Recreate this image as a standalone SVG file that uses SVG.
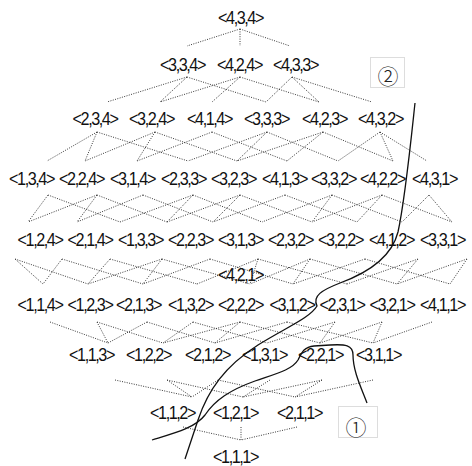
<svg xmlns="http://www.w3.org/2000/svg" width="472" height="466" viewBox="0 0 472 466">
<style>
text.n{font-family:"Liberation Sans",Arial,sans-serif;font-size:18px;fill:#111;text-anchor:middle;letter-spacing:-1.6px}
.e line{stroke:#222;stroke-width:0.9;stroke-dasharray:1 1.4;fill:none}
.c{fill:none;stroke:#111;stroke-width:1.3}
.b{fill:#fff;stroke:#ddd;stroke-width:1}
.m{font-family:"Noto Sans CJK JP","DejaVu Sans",sans-serif;font-size:21px;font-weight:300;fill:#222;text-anchor:middle}
</style>
<rect width="472" height="466" fill="#fff"/>
<g id="connectors" class="e">
<line x1="240" y1="29" x2="187" y2="46"/><line x1="240" y1="29" x2="240" y2="46"/><line x1="240" y1="29" x2="290" y2="46"/>
<line x1="187" y1="77" x2="107" y2="102"/><line x1="187" y1="77" x2="160" y2="102"/><line x1="187" y1="77" x2="266" y2="102"/>
<line x1="240" y1="77" x2="160" y2="102"/><line x1="240" y1="77" x2="212" y2="102"/><line x1="240" y1="77" x2="319" y2="102"/>
<line x1="292" y1="77" x2="266" y2="102"/><line x1="292" y1="77" x2="319" y2="102"/><line x1="292" y1="77" x2="372" y2="102"/>
<line x1="97" y1="132" x2="47" y2="161"/><line x1="97" y1="132" x2="85" y2="161"/><line x1="97" y1="132" x2="188" y2="161"/>
<line x1="155" y1="132" x2="85" y2="161"/><line x1="155" y1="132" x2="137" y2="161"/><line x1="155" y1="132" x2="237" y2="161"/>
<line x1="212" y1="132" x2="137" y2="161"/><line x1="212" y1="132" x2="287" y2="161"/>
<line x1="267" y1="132" x2="188" y2="161"/><line x1="267" y1="132" x2="237" y2="161"/><line x1="267" y1="132" x2="338" y2="161"/>
<line x1="323" y1="132" x2="237" y2="161"/><line x1="323" y1="132" x2="287" y2="161"/><line x1="323" y1="132" x2="393" y2="161"/>
<line x1="380" y1="132" x2="338" y2="161"/><line x1="380" y1="132" x2="393" y2="161"/><line x1="380" y1="132" x2="427" y2="161"/>
<line x1="48" y1="195" x2="28" y2="222"/><line x1="48" y1="195" x2="120" y2="222"/>
<line x1="97" y1="195" x2="28" y2="222"/><line x1="97" y1="195" x2="77" y2="222"/><line x1="97" y1="195" x2="167" y2="222"/>
<line x1="143" y1="195" x2="77" y2="222"/><line x1="143" y1="195" x2="213" y2="222"/>
<line x1="193" y1="195" x2="120" y2="222"/><line x1="193" y1="195" x2="167" y2="222"/><line x1="193" y1="195" x2="262" y2="222"/>
<line x1="240" y1="195" x2="167" y2="222"/><line x1="240" y1="195" x2="213" y2="222"/><line x1="240" y1="195" x2="312" y2="222"/>
<line x1="285" y1="195" x2="213" y2="222"/><line x1="285" y1="195" x2="357" y2="222"/>
<line x1="332" y1="195" x2="262" y2="222"/><line x1="332" y1="195" x2="312" y2="222"/><line x1="332" y1="195" x2="402" y2="222"/>
<line x1="382" y1="195" x2="312" y2="222"/><line x1="382" y1="195" x2="357" y2="222"/><line x1="382" y1="195" x2="452" y2="222"/>
<line x1="429" y1="195" x2="402" y2="222"/><line x1="429" y1="195" x2="452" y2="222"/>
<line x1="15" y1="259" x2="43" y2="284"/><line x1="15" y1="259" x2="88" y2="284"/>
<line x1="62" y1="259" x2="43" y2="284"/><line x1="62" y1="259" x2="143" y2="284"/>
<line x1="110" y1="259" x2="88" y2="284"/><line x1="110" y1="259" x2="197" y2="284"/>
<line x1="162" y1="259" x2="88" y2="284"/><line x1="162" y1="259" x2="143" y2="284"/><line x1="162" y1="259" x2="250" y2="284"/>
<line x1="210" y1="259" x2="143" y2="284"/><line x1="210" y1="259" x2="293" y2="284"/>
<line x1="258" y1="259" x2="197" y2="284"/><line x1="258" y1="259" x2="250" y2="284"/><line x1="258" y1="259" x2="347" y2="284"/>
<line x1="310" y1="259" x2="250" y2="284"/><line x1="310" y1="259" x2="293" y2="284"/><line x1="310" y1="259" x2="397" y2="284"/>
<line x1="365" y1="259" x2="293" y2="284"/><line x1="365" y1="259" x2="450" y2="284"/>
<line x1="418" y1="259" x2="347" y2="284"/><line x1="418" y1="259" x2="397" y2="284"/>
<line x1="467" y1="259" x2="397" y2="284"/><line x1="467" y1="259" x2="450" y2="284"/>
<line x1="50" y1="322" x2="108" y2="343"/>
<line x1="97" y1="322" x2="108" y2="343"/><line x1="97" y1="322" x2="163" y2="343"/>
<line x1="147" y1="322" x2="108" y2="343"/><line x1="147" y1="322" x2="215" y2="343"/>
<line x1="193" y1="322" x2="163" y2="343"/><line x1="193" y1="322" x2="267" y2="343"/>
<line x1="240" y1="322" x2="163" y2="343"/><line x1="240" y1="322" x2="215" y2="343"/><line x1="240" y1="322" x2="320" y2="343"/>
<line x1="287" y1="322" x2="215" y2="343"/><line x1="287" y1="322" x2="373" y2="343"/>
<line x1="335" y1="322" x2="267" y2="343"/><line x1="335" y1="322" x2="320" y2="343"/>
<line x1="382" y1="322" x2="320" y2="343"/><line x1="382" y1="322" x2="373" y2="343"/>
<line x1="432" y1="322" x2="373" y2="343"/>
<line x1="115" y1="380" x2="192" y2="397"/>
<line x1="167" y1="380" x2="192" y2="397"/><line x1="167" y1="380" x2="243" y2="397"/>
<line x1="218" y1="380" x2="192" y2="397"/><line x1="218" y1="380" x2="295" y2="397"/>
<line x1="270" y1="380" x2="243" y2="397"/>
<line x1="322" y1="380" x2="243" y2="397"/><line x1="322" y1="380" x2="295" y2="397"/>
<line x1="373" y1="380" x2="295" y2="397"/>
<line x1="183" y1="427" x2="241" y2="440"/><line x1="241" y1="427" x2="241" y2="440"/><line x1="297" y1="427" x2="241" y2="440"/>
</g>
<g id="r11"><g id="n434"><text class="n" transform="translate(240.5,24) scale(0.9,1)">&lt;4,3,4&gt;</text></g></g>
<g id="r10">
<g id="n334"><text class="n" transform="translate(182.5,71) scale(0.9,1)">&lt;3,3,4&gt;</text></g>
<g id="n424"><text class="n" transform="translate(239.5,71) scale(0.9,1)">&lt;4,2,4&gt;</text></g>
<g id="n433"><text class="n" transform="translate(295.5,71) scale(0.9,1)">&lt;4,3,3&gt;</text></g>
</g>
<g id="r9">
<g id="n234"><text class="n" transform="translate(95,125) scale(0.9,1)">&lt;2,3,4&gt;</text></g>
<g id="n324"><text class="n" transform="translate(151.5,125) scale(0.9,1)">&lt;3,2,4&gt;</text></g>
<g id="n414"><text class="n" transform="translate(209.5,125) scale(0.9,1)">&lt;4,1,4&gt;</text></g>
<g id="n333"><text class="n" transform="translate(266.5,125) scale(0.9,1)">&lt;3,3,3&gt;</text></g>
<g id="n423"><text class="n" transform="translate(324.5,125) scale(0.9,1)">&lt;4,2,3&gt;</text></g>
<g id="n432"><text class="n" transform="translate(380.5,125) scale(0.9,1)">&lt;4,3,2&gt;</text></g>
</g>
<g id="r8">
<g id="n134"><text class="n" transform="translate(31.5,185) scale(0.9,1)">&lt;1,3,4&gt;</text></g>
<g id="n224"><text class="n" transform="translate(81.5,185) scale(0.9,1)">&lt;2,2,4&gt;</text></g>
<g id="n314"><text class="n" transform="translate(132.5,185) scale(0.9,1)">&lt;3,1,4&gt;</text></g>
<g id="n233"><text class="n" transform="translate(183.5,185) scale(0.9,1)">&lt;2,3,3&gt;</text></g>
<g id="n323"><text class="n" transform="translate(233.5,185) scale(0.9,1)">&lt;3,2,3&gt;</text></g>
<g id="n413"><text class="n" transform="translate(284.5,185) scale(0.9,1)">&lt;4,1,3&gt;</text></g>
<g id="n332"><text class="n" transform="translate(333.5,185) scale(0.9,1)">&lt;3,3,2&gt;</text></g>
<g id="n422"><text class="n" transform="translate(382.5,185) scale(0.9,1)">&lt;4,2,2&gt;</text></g>
<g id="n431"><text class="n" transform="translate(434.5,185) scale(0.9,1)">&lt;4,3,1&gt;</text></g>
</g>
<g id="r7">
<g id="n124"><text class="n" transform="translate(40,246) scale(0.9,1)">&lt;1,2,4&gt;</text></g>
<g id="n214"><text class="n" transform="translate(90,246) scale(0.9,1)">&lt;2,1,4&gt;</text></g>
<g id="n133"><text class="n" transform="translate(140.5,246) scale(0.9,1)">&lt;1,3,3&gt;</text></g>
<g id="n223"><text class="n" transform="translate(190.5,246) scale(0.9,1)">&lt;2,2,3&gt;</text></g>
<g id="n313"><text class="n" transform="translate(240.5,246) scale(0.9,1)">&lt;3,1,3&gt;</text></g>
<g id="n232"><text class="n" transform="translate(290.5,246) scale(0.9,1)">&lt;2,3,2&gt;</text></g>
<g id="n322"><text class="n" transform="translate(340.5,246) scale(0.9,1)">&lt;3,2,2&gt;</text></g>
<g id="n412"><text class="n" transform="translate(391.5,246) scale(0.9,1)">&lt;4,1,2&gt;</text></g>
<g id="n331"><text class="n" transform="translate(442.5,246) scale(0.9,1)">&lt;3,3,1&gt;</text></g>
<g id="n421"><text class="n" transform="translate(240.5,281) scale(0.9,1)">&lt;4,2,1&gt;</text></g>
</g>
<g id="r6">
<g id="n114"><text class="n" transform="translate(40,311) scale(0.9,1)">&lt;1,1,4&gt;</text></g>
<g id="n123"><text class="n" transform="translate(90,311) scale(0.9,1)">&lt;1,2,3&gt;</text></g>
<g id="n213"><text class="n" transform="translate(138.5,311) scale(0.9,1)">&lt;2,1,3&gt;</text></g>
<g id="n132"><text class="n" transform="translate(190.5,311) scale(0.9,1)">&lt;1,3,2&gt;</text></g>
<g id="n222"><text class="n" transform="translate(240.5,311) scale(0.9,1)">&lt;2,2,2&gt;</text></g>
<g id="n312"><text class="n" transform="translate(292,311) scale(0.9,1)">&lt;3,1,2&gt;</text></g>
<g id="n231"><text class="n" transform="translate(342,311) scale(0.9,1)">&lt;2,3,1&gt;</text></g>
<g id="n321"><text class="n" transform="translate(392,311) scale(0.9,1)">&lt;3,2,1&gt;</text></g>
<g id="n411"><text class="n" transform="translate(442.5,311) scale(0.9,1)">&lt;4,1,1&gt;</text></g>
</g>
<g id="r5">
<g id="n113"><text class="n" transform="translate(91.5,361) scale(0.9,1)">&lt;1,1,3&gt;</text></g>
<g id="n122"><text class="n" transform="translate(148.5,361) scale(0.9,1)">&lt;1,2,2&gt;</text></g>
<g id="n212"><text class="n" transform="translate(207.5,361) scale(0.9,1)">&lt;2,1,2&gt;</text></g>
<g id="n131"><text class="n" transform="translate(264.5,361) scale(0.9,1)">&lt;1,3,1&gt;</text></g>
<g id="n221"><text class="n" transform="translate(320.5,361) scale(0.9,1)">&lt;2,2,1&gt;</text></g>
<g id="n311"><text class="n" transform="translate(378.5,361) scale(0.9,1)">&lt;3,1,1&gt;</text></g>
</g>
<g id="r4">
<g id="n112"><text class="n" transform="translate(172.5,419) scale(0.9,1)">&lt;1,1,2&gt;</text></g>
<g id="n121"><text class="n" transform="translate(235.5,419) scale(0.9,1)">&lt;1,2,1&gt;</text></g>
<g id="n211"><text class="n" transform="translate(299.5,419) scale(0.9,1)">&lt;2,1,1&gt;</text></g>
</g>
<g id="r3"><g id="n111"><text class="n" transform="translate(235.5,463) scale(0.9,1)">&lt;1,1,1&gt;</text></g></g>
<g id="curves">
<path class="c" d="M415,103 C411,140 405,200 398,232 C392,256 370,272 340,283 C322,290 312,296 317,306 C310,318 285,328 258,345 C225,366 208,390 198,420 L185,459"/>
<path class="c" d="M367,403 C360,385 353,370 353,355 C353,345 345,344 330,345 L314,346 C304,347 302,352 298,360 C292,370 275,374 255,381 C230,390 215,400 205,415 C195,428 175,433 152,440"/>
</g>
<g id="label2"><rect class="b" x="370.5" y="57.5" width="34" height="30"/><text class="m" x="388" y="84">②</text></g>
<g id="label1"><rect class="b" x="338.5" y="406.5" width="39" height="31"/><text class="m" x="356" y="435">①</text></g>
</svg>
